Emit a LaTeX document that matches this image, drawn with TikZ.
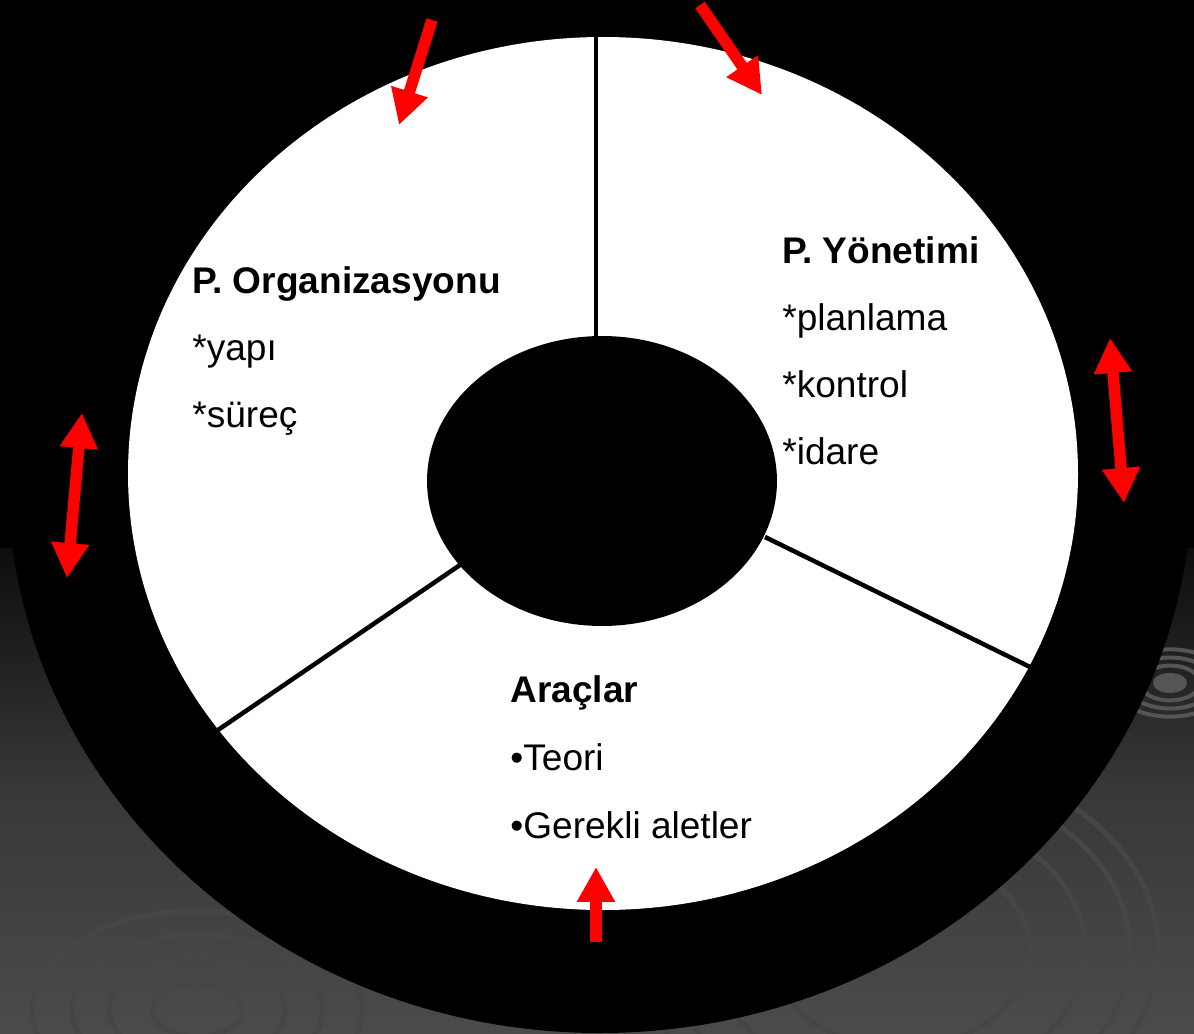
\documentclass[tikz,border=0pt]{standalone}
\usepackage{fontspec}
\setmainfont{Liberation Sans}
\usepackage{xcolor}
\usetikzlibrary{arrows.meta, shapes.geometric}

\definecolor{bgtop}{HTML}{0D0D0D}
\definecolor{bgmid}{HTML}{383838}
\definecolor{bgbot}{HTML}{4B4B4B}
\definecolor{ringgray}{HTML}{464646}
\definecolor{ringlight}{HTML}{555555}

\begin{document}
\begin{tikzpicture}[x=0.02cm, y=-0.02cm,
        head/.style={anchor=base west, inner sep=0pt,
                     font=\bfseries\fontsize{21.1}{25}\selectfont},
        item/.style={anchor=base west, inner sep=0pt,
                     font=\fontsize{21.1}{25}\selectfont},
        hub/.style={ellipse, fill=black, inner sep=0pt,
                    minimum width=7cm, minimum height=5.8cm},
        spoke/.style={line width=0.09cm},
        ringline/.style={draw=ringgray, line width=0.1cm},
        redarr/.style={red, line width=0.23cm,
                       -{Triangle[width=0.72cm, length=0.7cm]}},
        redboth/.style={red, line width=0.23cm,
                        {Triangle[width=0.72cm, length=0.7cm]}-{Triangle[width=0.72cm, length=0.7cm]}}
    ]
    \useasboundingbox (0,0) rectangle (1194,1034);

    % slide background
    \fill[black] (0,0) rectangle (1194,549);
    \shade[top color=bgtop, bottom color=bgmid] (0,548) rectangle (1194,790);
    \shade[top color=bgmid, bottom color=bgbot] (0,789) rectangle (1194,1034);
    \foreach \r in {45,88,125,165}
        \draw[ringline] (197,1010) ellipse [x radius=\r, y radius=0.6*\r];
    \foreach \r in {130,185,230,258}
        \draw[ringline] (900,950) ellipse [x radius=\r, y radius=0.75*\r];
    \foreach \r in {30,44,58}
        \draw[draw=ringlight, line width=0.08cm] (1170,683) ellipse [x radius=\r, y radius=0.58*\r];
    \fill[ringlight] (1170,683) ellipse [x radius=17, y radius=10];

    % wheel
    \fill[black] (600,478) ellipse [x radius=592, y radius=555];
    \fill[white] (603,473.5) ellipse [x radius=475, y radius=436.5];

    \coordinate (topout) at (596,37);
    \coordinate (topin)  at (596,345);
    \coordinate (rgtin)  at (765,537);
    \coordinate (rgtout) at (1030,667);
    \coordinate (lftin)  at (460,565);
    \coordinate (lftout) at (218,730);
    \draw[spoke] (topout) -- (topin);
    \draw[spoke] (rgtin) -- (rgtout);
    \draw[spoke] (lftin) -- (lftout);

    \node[hub] (hub) at (602,481) {};

    % texts
    \node[head] (orgT) at (192,293) {P. Organizasyonu};
    \node[item] (orgA) at (192,360) {*yapı};
    \node[item] (orgB) at (192,427) {*süreç};

    \node[head] (ynT) at (782,263) {P. Yönetimi};
    \node[item] (ynA) at (782,330) {*planlama};
    \node[item] (ynB) at (782,397) {*kontrol};
    \node[item] (ynC) at (782,464) {*idare};

    \node[head] (arT) at (510,702) {Araçlar};
    \node[item] (arA) at (510,770) {•Teori};
    \node[item] (arB) at (510,838) {•Gerekli aletler};

    % red arrows
    \coordinate (a1s) at (432,20);   \coordinate (a1e) at (399,125);
    \coordinate (a2s) at (700,5);    \coordinate (a2e) at (762,95);
    \coordinate (a3s) at (1110,338); \coordinate (a3e) at (1124,503);
    \coordinate (a4s) at (82,413);   \coordinate (a4e) at (67,578);
    \coordinate (a5s) at (596,942);  \coordinate (a5e) at (596,867);
    \draw[redarr] (a1s) -- (a1e);
    \draw[redarr] (a2s) -- (a2e);
    \draw[redboth] (a3s) -- (a3e);
    \draw[redboth] (a4s) -- (a4e);
    \draw[redarr] (a5s) -- (a5e);
\end{tikzpicture}
\end{document}
